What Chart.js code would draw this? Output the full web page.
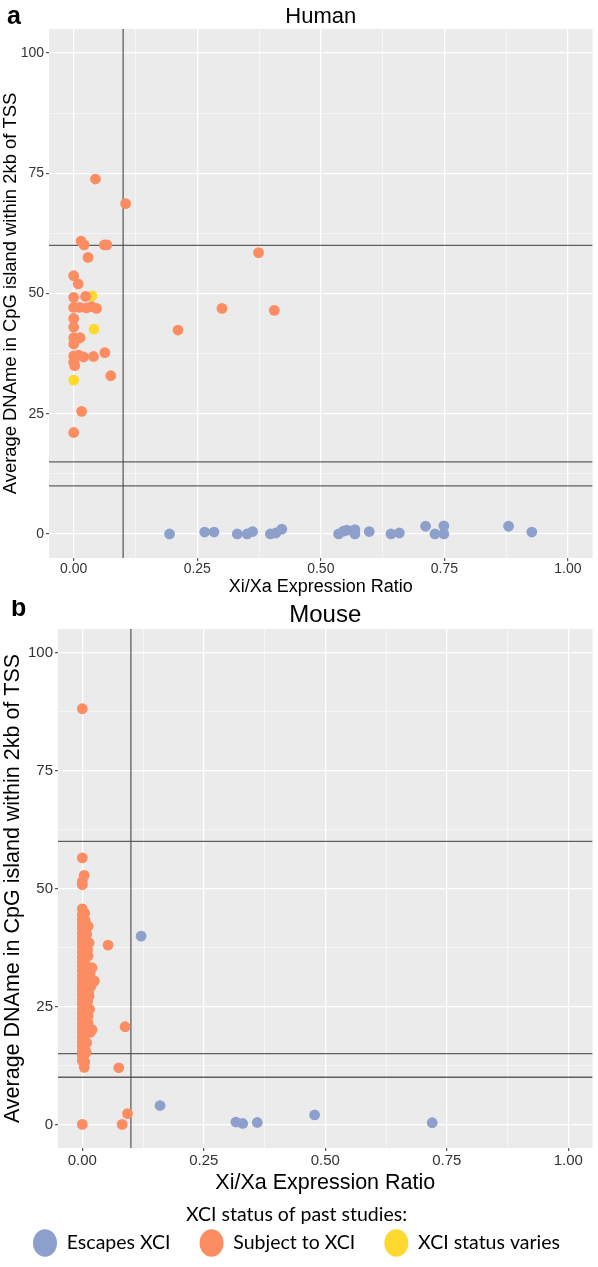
<!DOCTYPE html>
<html><head><meta charset="utf-8">
<script src="https://cdn.jsdelivr.net/npm/chart.js@4.4.1/dist/chart.umd.min.js"></script>
<style>
html,body{margin:0;padding:0;background:#fff;}
#wrap{position:relative;width:598px;height:1267px;overflow:hidden;}
canvas{position:absolute;left:0;}
</style></head><body>
<div id="wrap">
<canvas id="human" width="598" height="600" style="top:0px"></canvas>
<canvas id="mouse" width="598" height="667" style="top:600px"></canvas>
</div>
<script>
// ---------- data ----------
const statusNames = ['Escapes XCI', 'Subject to XCI', 'XCI status varies'];
const statusColors = ['#8DA0CB', '#FC8D62', '#FFD92F'];

const xTickValues = [0, 0.125, 0.25, 0.375, 0.5, 0.625, 0.75, 0.875, 1];
const yTickValues = [0, 12.5, 25, 37.5, 50, 62.5, 75, 87.5, 100];
const xLimits = [-0.05, 1.05];
const yLimits = [-5, 105];
const xCutoffs = [0.1];
const yCutoffs = [60, 15, 10];

const humanEscapes = [[0.194,0],[0.265,0.4],[0.284,0.4],[0.331,0],[0.351,0],[0.362,0.5],[0.398,0],[0.409,0.2],[0.421,1.0],[0.536,0],[0.546,0.6],[0.553,0.8],[0.569,0.9],[0.569,0],[0.598,0.5],[0.642,0],[0.659,0.2],[0.712,1.6],[0.731,0],[0.749,1.7],[0.749,0],[0.880,1.6],[0.927,0.4]];
const humanSubject = [[0.044,73.8],[0.105,68.7],[0.015,60.9],[0.021,60.1],[0.062,60.1],[0.067,60.1],[0.029,57.5],[0.374,58.5],[0.0,53.7],[0.009,52.0],[0.0,49.2],[0.024,49.4],[0.0,47.1],[0.012,47.1],[0.026,47.0],[0.036,47.3],[0.046,46.9],[0.30,46.9],[0.406,46.5],[0.211,42.4],[0.0,44.8],[0.0,43.0],[0.0,40.8],[0.013,40.8],[0.0,39.5],[0.0,37.0],[0.01,37.2],[0.02,36.8],[0.04,36.9],[0.063,37.7],[0.0,35.7],[0.002,35.0],[0.075,32.9],[0.016,25.5],[0.0,21.1]];
const humanVaries = [[0.037,49.5],[0.041,42.6],[0.0,32.0]];

const mouseEscapes = [[0.121,39.9],[0.16,4.0],[0.316,0.5],[0.33,0.2],[0.36,0.4],[0.478,2.0],[0.72,0.35]];
const mouseSubject = [
[0,88.1],[0,56.5],[0.004,52.8],[0,51.5],[0,50.8],
[0,45.7],[0,44.5],[0,43.5],[0,42.5],[0,41.5],[0,40.5],[0,39.5],[0,38.5],[0,37.5],[0,36.5],[0,35.5],[0,34.5],[0,33.5],[0,32.5],[0,31.5],[0,30.5],[0,29.5],[0,28.5],[0,27.5],[0,26.5],[0,25.5],[0,24.5],[0,23.5],[0,22.5],[0,21.5],[0,20.5],[0,19.5],[0,18.5],[0,17.5],[0,16.5],[0,15.5],[0,14.5],[0,13.5],
[0.005,44.8],[0.006,43.2],[0.004,41.0],[0.007,39.8],[0.005,37.9],[0.006,36.2],[0.004,34.7],[0.007,33.8],[0.005,32.1],[0.006,30.9],[0.004,29.6],[0.007,28.2],[0.005,26.8],[0.006,25.3],[0.004,24.0],[0.007,22.6],[0.005,21.4],[0.006,19.9],[0.004,18.7],[0.006,17.4],[0.005,16.0],[0.004,14.8],[0.005,13.2],[0.004,12.1],
[0.012,42.0],[0.009,40.3],[0.014,38.5],[0.011,37.0],[0.012,35.7],[0.020,33.2],[0.016,32.0],[0.025,30.4],[0.018,29.3],[0.013,28.0],[0.014,27.2],[0.011,26.0],[0.015,24.4],[0.012,23.0],[0.012,21.5],[0.020,20.1],[0.016,19.5],[0.009,17.3],[0.008,15.3],
[0.053,38.0],[0.088,20.7],[0.075,12.0],[0.093,2.3],[0,0],[0.082,0]
];
const mouseVaries = [];

// ---------- helpers ----------
const FONT = '"Liberation Sans", Arial, sans-serif';
const LEG_FONT = 'Lato, "Open Sans", sans-serif';
const isMajorX = v => Math.abs(v * 4 - Math.round(v * 4)) < 1e-6;
const isMajorY = v => Math.abs(v / 25 - Math.round(v / 25)) < 1e-6;
const toPts = arr => arr.map(([x, y]) => ({x, y}));

const panelDecor = {
  id: 'panelDecor',
  beforeDraw(chart) {
    const {ctx, chartArea: a} = chart;
    ctx.save();
    ctx.fillStyle = '#EBEBEB';
    ctx.fillRect(a.left, a.top, a.right - a.left, a.bottom - a.top);
    ctx.restore();
  },
  afterDraw(chart, args, o) {
    const {ctx, chartArea: a} = chart;
    ctx.save();
    ctx.fillStyle = '#000';
    ctx.textBaseline = 'alphabetic';
    ctx.textAlign = 'left';
    ctx.font = o.letterFont;
    ctx.fillText(o.letter, o.letterX, o.letterY);
    ctx.textAlign = 'center';
    ctx.font = o.titleFont;
    ctx.fillText(o.title, (a.left + a.right) / 2, o.titleY);
    ctx.restore();
  }
};

function makeDatasets(series, r) {
  const ds = series.map((s, i) => ({
    label: statusNames[i], data: toPts(s),
    backgroundColor: statusColors[i], borderColor: statusColors[i],
    pointBackgroundColor: statusColors[i], pointBorderWidth: 0, borderWidth: 0,
    pointRadius: r, pointHoverRadius: r, order: 0
  }));
  const lineStyle = {showLine: true, borderColor: 'rgba(70,70,70,0.85)', borderWidth: 1.3,
                     pointRadius: 0, pointHoverRadius: 0, order: 1, fill: false, label: 'cutoff'};
  xCutoffs.forEach(v => ds.push(Object.assign({}, lineStyle, {data: [{x: v, y: yLimits[0]}, {x: v, y: yLimits[1]}]})));
  yCutoffs.forEach(v => ds.push(Object.assign({}, lineStyle, {data: [{x: xLimits[0], y: v}, {x: xLimits[1], y: v}]})));
  return ds;
}

function makeChart(id, series, o) {
  const gridCommon = (isMajor) => ({
    color: c => isMajor(c.tick.value) ? '#FFFFFF' : 'rgba(255,255,255,0.75)',
    lineWidth: c => isMajor(c.tick.value) ? 1.3 : 0.7,
    drawTicks: true, tickLength: 3, tickWidth: 1.1,
    tickColor: c => isMajor(c.tick.value) ? '#444' : 'rgba(0,0,0,0)'
  });
  return new Chart(document.getElementById(id), {
    type: 'scatter',
    data: {datasets: makeDatasets(series, o.r)},
    plugins: [panelDecor],
    options: {
      responsive: false, animation: false, devicePixelRatio: 1, events: [],
      layout: {padding: {top: 29, right: 5, bottom: o.padBottom, left: 0}},
      scales: {
        x: {
          type: 'linear', min: xLimits[0], max: xLimits[1],
          afterBuildTicks: s => { s.ticks = xTickValues.map(v => ({value: v})); },
          afterFit: s => { s.height = o.xAxisH; },
          ticks: {autoSkip: false, maxRotation: 0, minRotation: 0, padding: o.xTickPad, color: '#333',
                  font: {family: FONT, size: o.tickSize},
                  callback: v => isMajorX(v) ? v.toFixed(2) : ''},
          grid: gridCommon(isMajorX),
          border: {display: false},
          title: {display: true, text: 'Xi/Xa Expression Ratio', color: '#000',
                  font: {family: FONT, size: o.xTitleSize, lineHeight: 1.2},
                  padding: {top: 0, bottom: o.xTitlePadB}}
        },
        y: {
          type: 'linear', min: yLimits[0], max: yLimits[1],
          afterBuildTicks: s => { s.ticks = yTickValues.map(v => ({value: v})); },
          afterFit: s => { s.width = o.yAxisW; },
          ticks: {autoSkip: false, padding: 2, color: '#333',
                  font: {family: FONT, size: o.tickSize},
                  callback: v => isMajorY(v) ? String(v) : ''},
          grid: gridCommon(isMajorY),
          border: {display: false},
          title: {display: true, text: 'Average DNAme in CpG island within 2kb of TSS', color: '#000',
                  font: {family: FONT, size: o.yTitleSize, lineHeight: 1.2},
                  padding: {top: 0, bottom: 0}}
        }
      },
      plugins: {
        tooltip: {enabled: false},
        legend: o.legend ? {
          display: true, position: 'bottom', align: 'center',
          title: {display: true, text: 'XCI status of past studies:', color: '#000',
                  font: {family: LEG_FONT, size: 19.5, lineHeight: 1.2},
                  padding: {top: 9.25, bottom: -24.4}},
          labels: {
            usePointStyle: true, pointStyle: 'circle', pointStyleWidth: 24, boxHeight: 19.5,
            padding: 29, color: '#000', font: {family: LEG_FONT, size: 19.5},
            generateLabels: () => statusNames.map((t, i) => ({
              text: t, fillStyle: statusColors[i], strokeStyle: statusColors[i],
              lineWidth: 0, pointStyle: 'circle', hidden: false, datasetIndex: i, fontColor: '#000'
            }))
          }
        } : {display: false},
        panelDecor: o.decor
      }
    }
  });
}

makeChart('human', [humanEscapes, humanSubject, humanVaries], {
  r: 5.4, padBottom: 0, xAxisH: 42, yAxisW: 49, tickSize: 14, xTickPad: 0,
  xTitleSize: 18, xTitlePadB: 2, yTitleSize: 18.4, legend: false,
  decor: {letter: 'a', letterFont: 'bold 25px ' + FONT, letterX: 7, letterY: 24,
          title: 'Human', titleFont: '22px ' + FONT, titleY: 23}
});

makeChart('mouse', [mouseEscapes, mouseSubject, mouseVaries], {
  r: 5.4, padBottom: 4.25, xAxisH: 48, yAxisW: 58, tickSize: 15, xTickPad: 1,
  xTitleSize: 21.5, xTitlePadB: 0, yTitleSize: 21.5, legend: true,
  decor: {letter: 'b', letterFont: 'bold 25px ' + FONT, letterX: 11, letterY: 16,
          title: 'Mouse', titleFont: '24px ' + FONT, titleY: 22}
});
</script>
</body></html>
